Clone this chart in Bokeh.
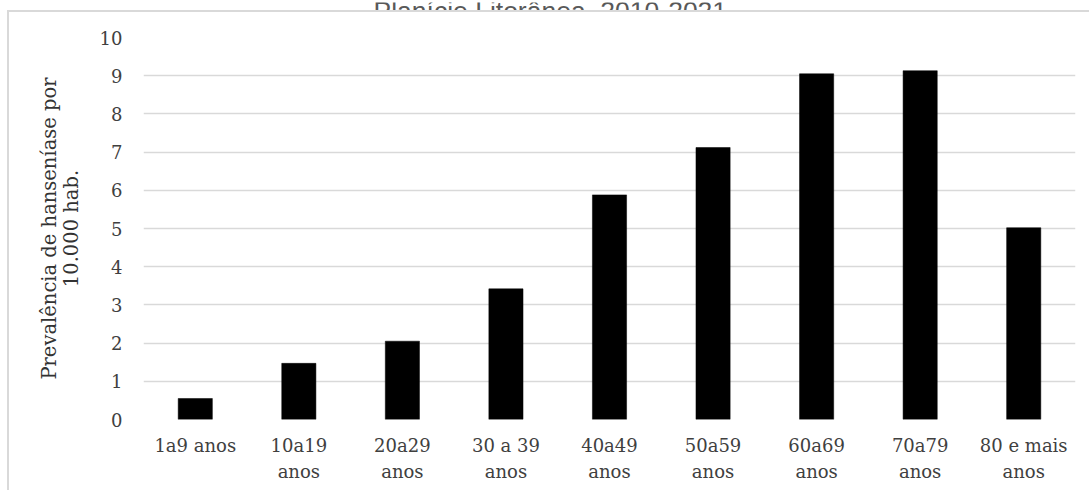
from bokeh.plotting import figure
from bokeh.layouts import column
from bokeh.models import (Range1d, Label, FixedTicker, ColumnDataSource,
                          LinearAxis, InlineStyleSheet)
from bokeh.embed import file_html
from bokeh.resources import INLINE

# Faixas etárias e prevalência de hanseníase por 10.000 habitantes
faixas = ["1a9 anos", "10a19 anos", "20a29 anos", "30 a 39 anos", "40a49 anos",
          "50a59 anos", "60a69 anos", "70a79 anos", "80 e mais anos"]
rotulos_linha1 = ["1a9 anos", "10a19", "20a29", "30 a 39", "40a49",
                  "50a59", "60a69", "70a79", "80 e mais"]
rotulos_linha2 = [" ", "anos", "anos", "anos", "anos", "anos", "anos", "anos", "anos"]
prevalencia = [0.55, 1.47, 2.05, 3.42, 5.88, 7.12, 9.05, 9.13, 5.02]
y_ticks = list(range(0, 11))

titulo = "Planície Litorânea, 2010-2021."
eixo_y = "Prevalência de hanseníase por\n10.000 hab."

SERIF = "DejaVu Serif"
GRID = "#d9d9d9"
TXT = "#404040"
LARGURA = 1089

# faixa do título, acima da moldura do gráfico (o texto é cortado no topo);
# na coluna, a área de plotagem desta faixa fica alinhada à do gráfico
topo = figure(
    width=LARGURA, height=10, sizing_mode="fixed",
    x_range=Range1d(0, LARGURA), y_range=Range1d(0, 10),
    output_backend="svg", toolbar_location=None,
    x_axis_location=None, y_axis_location=None,
    min_border=0, min_border_left=0, min_border_right=0,
    min_border_top=0, min_border_bottom=0,
)
topo.outline_line_color = None
topo.xgrid.grid_line_color = None
topo.ygrid.grid_line_color = None
topo.add_layout(Label(x=230, y=2, x_units="screen", y_units="screen", text=titulo,
                      text_align="left", text_baseline="alphabetic",
                      text_font="Liberation Sans", text_font_size="26.5px",
                      text_color="#595959"))

# cada faixa ocupa uma unidade do eixo x, centrada em i + 0.5
centros = [i + 0.5 for i in range(len(faixas))]
src = ColumnDataSource(dict(x=centros, faixa=faixas, valor=prevalencia))

p = figure(
    width=LARGURA, height=480, sizing_mode="fixed",
    x_range=Range1d(0, len(faixas)),
    y_range=Range1d(0, 10),
    output_backend="svg", toolbar_location=None,
    x_axis_location=None,
    min_border_left=143, min_border_right=14,
    min_border_top=27, min_border_bottom=71,
)
p.outline_line_color = None
p.background_fill_color = "white"
p.border_fill_color = "white"

p.vbar(x="x", top="valor", width=0.33, source=src,
       fill_color="black", line_color="black", line_width=0.5)

# eixo y
p.yaxis.ticker = FixedTicker(ticks=y_ticks)
p.yaxis.axis_line_color = None
p.yaxis.major_tick_line_color = None
p.yaxis.minor_tick_line_color = None
p.yaxis.major_tick_out = 0
p.yaxis.major_tick_in = 0
p.yaxis.minor_tick_out = 0
p.yaxis.major_label_standoff = 21
p.yaxis.major_label_text_font = SERIF
p.yaxis.major_label_text_font_size = "18px"
p.yaxis.major_label_text_color = TXT
p.yaxis.axis_label = eixo_y
p.yaxis.axis_label_text_font = SERIF
p.yaxis.axis_label_text_font_size = "19.5px"
p.yaxis.axis_label_text_font_style = "normal"
p.yaxis.axis_label_text_color = "#333333"
p.yaxis.axis_label_text_line_height = 0.92
p.yaxis.axis_label_standoff = 14


def eixo_x(linhas, standoff):
    ax = LinearAxis(ticker=FixedTicker(ticks=centros, minor_ticks=[]))
    ax.axis_line_color = None
    ax.major_tick_line_color = None
    ax.minor_tick_line_color = None
    ax.major_tick_out = 0
    ax.major_tick_in = 0
    ax.minor_tick_out = 0
    ax.major_label_overrides = {c: t for c, t in zip(centros, linhas)}
    ax.major_label_standoff = standoff
    ax.major_label_text_font = SERIF
    ax.major_label_text_font_size = "18px"
    ax.major_label_text_color = TXT
    p.add_layout(ax, "below")


# rótulos do eixo x em duas linhas
eixo_x(rotulos_linha1, 15)
eixo_x(rotulos_linha2, 2)

# grade
p.xgrid.grid_line_color = None
p.ygrid.grid_line_color = GRID
p.ygrid.grid_line_width = 1.5

# moldura da área do gráfico
p.stylesheets = [InlineStyleSheet(css=(
    ":host::after { content: ''; position: absolute; left: 7px; top: 0; "
    "right: 0; bottom: 0; border-left: 2px solid #d9d9d9; "
    "border-top: 2px solid #d9d9d9; pointer-events: none; }"
))]

layout = column(topo, p, spacing=0, sizing_mode="fixed")
open("out.html", "w").write(file_html(layout, INLINE))
